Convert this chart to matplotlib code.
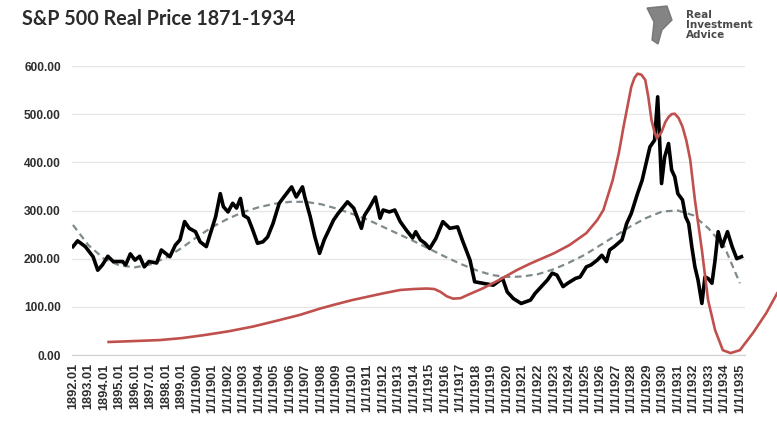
import matplotlib
matplotlib.use("Agg")
import matplotlib.pyplot as plt
from matplotlib.patches import Polygon

# S&P 500 real price (black)
price_years = [1892.0, 1892.3, 1892.8, 1893.3, 1893.6, 1893.9, 1894.25, 1894.6, 1895.2, 1895.4,
               1895.7, 1896.0, 1896.3, 1896.6, 1896.9, 1897.4, 1897.7, 1898.25, 1898.6, 1898.9,
               1899.2, 1899.5, 1899.9, 1900.2, 1900.6, 1900.9, 1901.2, 1901.5, 1901.7, 1902.0,
               1902.3, 1902.55, 1902.8, 1903.0, 1903.3, 1903.6, 1903.9, 1904.25, 1904.55, 1904.9,
               1905.3, 1905.6, 1906.1, 1906.4, 1906.8, 1906.95, 1907.3, 1907.6, 1907.9, 1908.2,
               1908.8, 1909.1, 1909.7, 1910.1, 1910.6, 1910.8, 1911.1, 1911.5, 1911.8, 1912.0,
               1912.4, 1912.75, 1913.1, 1913.5, 1913.9, 1914.1, 1914.4, 1914.7, 1915.0, 1915.4,
               1915.85, 1916.3, 1916.8, 1917.1, 1917.6, 1917.9, 1918.4, 1919.1, 1919.7, 1920.0,
               1920.4, 1920.9, 1921.5, 1921.8, 1922.2, 1922.6, 1922.9, 1923.2, 1923.6, 1923.9,
               1924.4, 1924.7, 1925.1, 1925.4, 1925.8, 1926.1, 1926.4, 1926.6, 1926.9, 1927.4,
               1927.7, 1928.0, 1928.4, 1928.7, 1929.0, 1929.2, 1929.5, 1929.7, 1929.95, 1930.15,
               1930.4, 1930.6, 1930.8, 1931.0, 1931.3, 1931.5, 1931.7, 1931.9, 1932.1, 1932.3,
               1932.55, 1932.75, 1932.95, 1933.2, 1933.4, 1933.6, 1933.85, 1934.2, 1934.5, 1934.8,
               1935.1]
price_vals = [225, 237, 225, 204, 176, 187, 205, 194, 194, 187,
              210, 197, 205, 183, 194, 191, 218, 204, 228, 239,
              277, 263, 256, 235, 225, 256, 287, 335, 308, 297,
              315, 305, 325, 290, 284, 259, 232, 235, 245, 273,
              315, 328, 349, 328, 349, 328, 287, 245, 211, 239,
              280, 294, 318, 305, 263, 290, 305, 328, 284, 301,
              297, 301, 277, 259, 243, 256, 239, 232, 221, 242,
              277, 263, 266, 239, 197, 152, 149, 145, 159, 131,
              117, 107, 114, 128, 142, 156, 170, 166, 142, 149,
              159, 162, 183, 187, 197, 207, 194, 218, 225, 239,
              273, 294, 335, 363, 405, 432, 446, 536, 356, 411,
              439, 384, 370, 335, 322, 287, 273, 225, 183, 156,
              107, 162, 159, 149, 197, 256, 225, 256, 225, 200,
              204]

# dashed trend line
trend_years = list(range(1892, 1936))
trend_vals = [270, 228, 200, 186, 182, 188, 202, 222, 245, 266,
              283, 297, 307, 314, 318, 318, 313, 304, 293, 281,
              266, 251, 236, 220, 204, 189, 176, 166, 162, 163,
              168, 178, 192, 208, 228, 248, 268, 285, 298, 300,
              290, 262, 225, 149]

# red overlay curve
red_years = [1894.3, 1896.0, 1897.6, 1899.0, 1900.4, 1902.0, 1903.6, 1905.0, 1906.6, 1908.0,
             1908.8, 1910.0, 1911.0, 1912.0, 1913.1, 1914.0, 1914.8, 1915.3, 1915.7, 1916.1,
             1916.5, 1917.0, 1917.4, 1918.4, 1919.5, 1920.6, 1921.5, 1923.0, 1924.0, 1925.1,
             1925.8, 1926.2, 1926.8, 1927.2, 1927.5, 1928.0, 1928.2, 1928.4, 1928.65, 1928.9,
             1929.1, 1929.3, 1929.5, 1929.65, 1929.95, 1930.2, 1930.4, 1930.6, 1930.8, 1931.05,
             1931.3, 1931.55, 1931.8, 1932.1, 1932.55, 1932.95, 1933.4, 1933.9, 1934.4, 1935.0,
             1935.85, 1936.7, 1937.4]
red_vals = [27, 29, 31, 35, 41, 49, 59, 70, 83, 97,
            104, 114, 121, 128, 135, 137, 138, 137, 131, 122,
            117, 118, 124, 138, 156, 176, 190, 211, 228, 253,
            280, 301, 363, 420, 474, 557, 575, 584, 582, 571,
            535, 488, 462, 450, 463, 484, 494, 500, 501, 492,
            474, 445, 405, 322, 218, 114, 52, 10, 4, 10,
            46, 87, 128]

year_ticks = list(range(1892, 1936))
tick_labels = [f"{y}.01" if y < 1900 else f"1/1/{y}" for y in year_ticks]
y_ticks = [0, 100, 200, 300, 400, 500, 600]

fig = plt.figure(figsize=(7.77, 4.28), dpi=100)
ax = fig.add_axes([72 / 777, 73 / 428, 673 / 777, 289 / 428])

ax.plot(trend_years, trend_vals, color="#7f8a8c", lw=1.6, ls=(0, (3, 2)), zorder=2)
ax.plot(price_years, price_vals, color="black", lw=2.6, zorder=3)
ax.plot(red_years, red_vals, color="#c0504d", lw=1.9, zorder=4, clip_on=False)

ax.set_xlim(1891.94, 1935.33)
ax.set_ylim(0, 600)
ax.set_yticks(y_ticks)
ax.set_yticklabels([f"{v:.2f}" for v in y_ticks])
ax.set_xticks(year_ticks)
ax.set_xticklabels(tick_labels, rotation=90)
ax.grid(axis="y", color="#e6e6e6", lw=1)
ax.set_axisbelow(True)
for s in ["top", "right", "left"]:
    ax.spines[s].set_visible(False)
ax.spines["bottom"].set_color("#d0d0d0")
ax.tick_params(axis="both", length=0, colors="#2e2e2e")
ax.tick_params(axis="y", pad=8, labelsize=8.6)
ax.tick_params(axis="x", pad=6, labelsize=9.2)
for lab in ax.get_xticklabels() + ax.get_yticklabels():
    lab.set_fontweight("bold")
    lab.set_family(["Liberation Sans Narrow", "Liberation Sans"])

fig.text(22 / 777, 1 - 19 / 428, "S&P 500 Real Price 1871-1934", fontsize=14.2,
         fontweight="bold", color="#2b2b2b", family="Lato", va="center", ha="left")

# logo
fig.patches.append(Polygon([[647 / 777, 1 - 8 / 428], [667 / 777, 1 - 6 / 428], [672 / 777, 1 - 20 / 428],
                            [662 / 777, 1 - 30 / 428], [658 / 777, 1 - 44 / 428], [652 / 777, 1 - 40 / 428],
                            [654 / 777, 1 - 22 / 428]],
                           closed=True, transform=fig.transFigure, color="#6e6e6e", alpha=0.85))
fig.text(686 / 777, 1 - 25 / 428, "Real\nInvestment\nAdvice", fontsize=7.5, fontweight="bold",
         color="#4a4a4a", va="center", ha="left", linespacing=0.95)

fig.savefig("out.png", dpi=100)
